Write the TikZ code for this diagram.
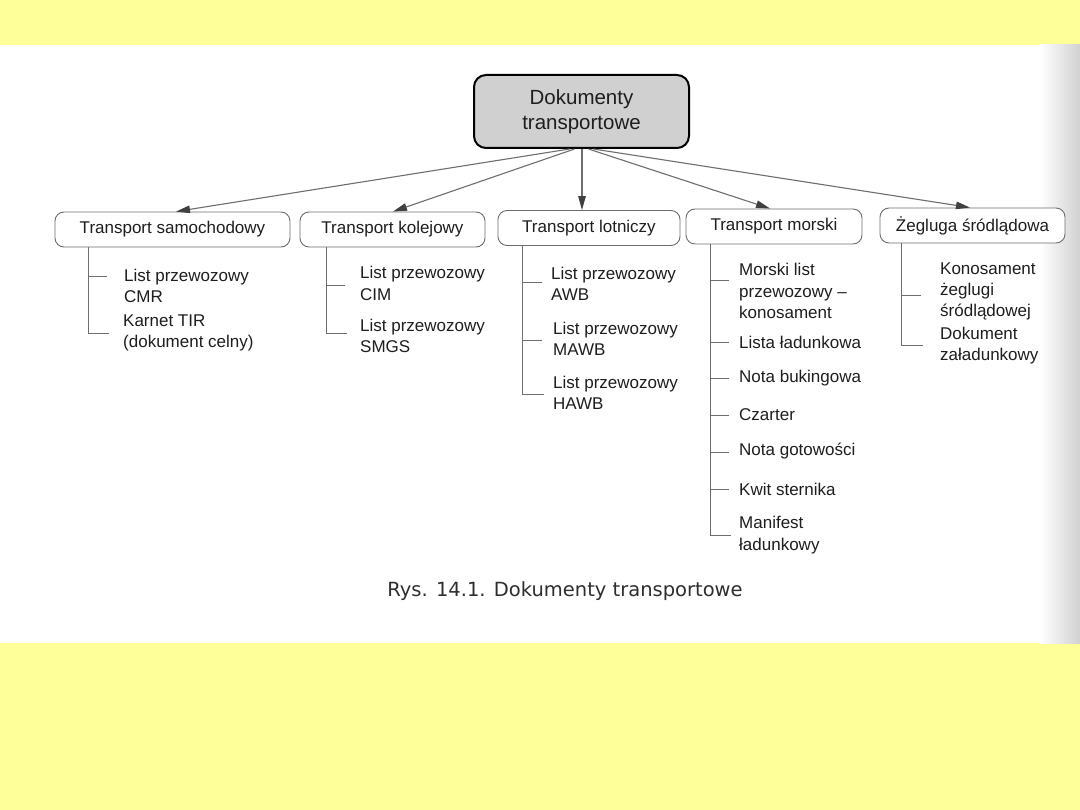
\documentclass[tikz,border=0pt]{standalone}
\usepackage{fontspec}
\setmainfont{Liberation Sans}
\newfontfamily\capfont{DejaVu Sans}
\usetikzlibrary{arrows.meta}
\definecolor{bgyellow}{RGB}{255,255,153}
\definecolor{rootfill}{RGB}{208,208,208}
\definecolor{linegray}{RGB}{110,110,110}
\definecolor{txt}{RGB}{30,30,30}
\tikzset{
  rootbox/.style={draw=black, line width=2pt, rounded corners=12pt, fill=rootfill,
    minimum width=215pt, minimum height=73pt, align=center, text=txt,
    font=\fontsize{20.5}{25}\selectfont},
  catbox/.style={draw=linegray, line width=0.9pt, rounded corners=9pt, fill=white,
    minimum height=35pt, text=txt, font=\fontsize{17}{21}\selectfont},
  leaf/.style={anchor=west, align=left, inner sep=0pt, text=txt,
    font=\fontsize{17}{21.3}\selectfont},
  arr/.style={draw=linegray, line width=1.1pt, -{Triangle[length=14pt,width=7.5pt,color=black!75,fill=black!75]}},
  tree/.style={draw=linegray, line width=0.8pt},
}
\begin{document}
\begin{tikzpicture}[x=1pt,y=-1pt]
\useasboundingbox (0,0) rectangle (1080,810);
\fill[bgyellow] (0,0) rectangle (1080,810);
\fill[white] (0,45) rectangle (1080,643);
\shade[left color=white, right color=black!18] (1040,45) rectangle (1080,643);

% root
\node[rootbox] (root) at (581.5,111.5) {Dokumenty\\transportowe};

% categories
\node[catbox, minimum width=235pt] (sam) at (172.5,229.5) {Transport samochodowy};
\node[catbox, minimum width=185pt] (kol) at (392.5,229.5) {Transport kolejowy};
\node[catbox, minimum width=182pt] (lot) at (589,228) {Transport lotniczy};
\node[catbox, minimum width=176pt] (mor) at (774,226.5) {Transport morski};
\node[catbox, minimum width=185pt] (zeg) at (972.5,225.5) {Żegluga śródlądowa};

% arrows
\draw[arr] ([xshift=-12pt]root.south) -- ([xshift=3.5pt]sam.north);
\draw[arr] ([xshift=-7pt]root.south) -- ([xshift=0.5pt]kol.north);
\draw[arr] ([xshift=0.5pt]root.south) -- ([xshift=-7pt]lot.north);
\draw[arr] ([xshift=7pt]root.south) -- ([xshift=-4pt]mor.north);
\draw[arr] ([xshift=12pt]root.south) -- ([xshift=-2.5pt]zeg.north);

% samochodowy
\coordinate (sA) at (88,276);
\coordinate (sB) at (88,333);
\draw[tree] (sam.south -| sA) -- (sB);
\draw[tree] (sA) -- ++(19,0);
\draw[tree] (sB) -- ++(21,0);
\node[leaf] (s1) at (124,286) {List przewozowy\\CMR};
\node[leaf] (s2) at (123,333) {Karnet TIR\\(dokument celny)};

% kolejowy
\coordinate (kA) at (326,285);
\coordinate (kB) at (326,333);
\draw[tree] (kol.south -| kA) -- (kB);
\draw[tree] (kA) -- ++(19,0);
\draw[tree] (kB) -- ++(21,0);
\node[leaf] (k1) at (360,283.5) {List przewozowy\\CIM};
\node[leaf] (k2) at (360,336) {List przewozowy\\SMGS};

% lotniczy
\coordinate (lA) at (522,282);
\coordinate (lB) at (522,340);
\coordinate (lC) at (522,394);
\draw[tree] (lot.south -| lA) -- (lC);
\draw[tree] (lA) -- ++(20,0);
\draw[tree] (lB) -- ++(20,0);
\draw[tree] (lC) -- ++(22,0);
\node[leaf] (l1) at (551,283.5) {List przewozowy\\AWB};
\node[leaf] (l2) at (553,338.5) {List przewozowy\\MAWB};
\node[leaf] (l3) at (553,392.5) {List przewozowy\\HAWB};

% morski
\coordinate (mA) at (710,280);
\coordinate (mB) at (710,342);
\coordinate (mC) at (710,378);
\coordinate (mD) at (710,415);
\coordinate (mE) at (710,452);
\coordinate (mF) at (710,489);
\coordinate (mG) at (710,535);
\draw[tree] (mor.south -| mA) -- (mG);
\foreach \c in {mA,mB,mC,mD,mE,mF} \draw[tree] (\c) -- ++(19,0);
\draw[tree] (mG) -- ++(21,0);
\node[leaf] (m1) at (739,291) {Morski list\\przewozowy –\\konosament};
\node[leaf] (m2) at (739,342) {Lista ładunkowa};
\node[leaf] (m3) at (739,378) {Nota bukingowa};
\node[leaf] (m4) at (739,415) {Czarter};
\node[leaf] (m5) at (739,451) {Nota gotowości};
\node[leaf] (m6) at (739,489) {Kwit sternika};
\node[leaf] (m7) at (739,535) {Manifest\\ładunkowy};

% zegluga
\coordinate (zA) at (901,295);
\coordinate (zB) at (901,345);
\draw[tree] (zeg.south -| zA) -- (zB);
\draw[tree] (zA) -- ++(20,0);
\draw[tree] (zB) -- ++(22,0);
\node[leaf] (z1) at (940,291.5) {Konosament\\żeglugi\\śródlądowej};
\node[leaf] (z2) at (940,345.5) {Dokument\\załadunkowy};

% caption
\node[text=black!82, font=\capfont\fontsize{19.5}{23}\selectfont] (cap) at (565,591) {Rys. 14.1. Dokumenty transportowe};
\end{tikzpicture}
\end{document}
